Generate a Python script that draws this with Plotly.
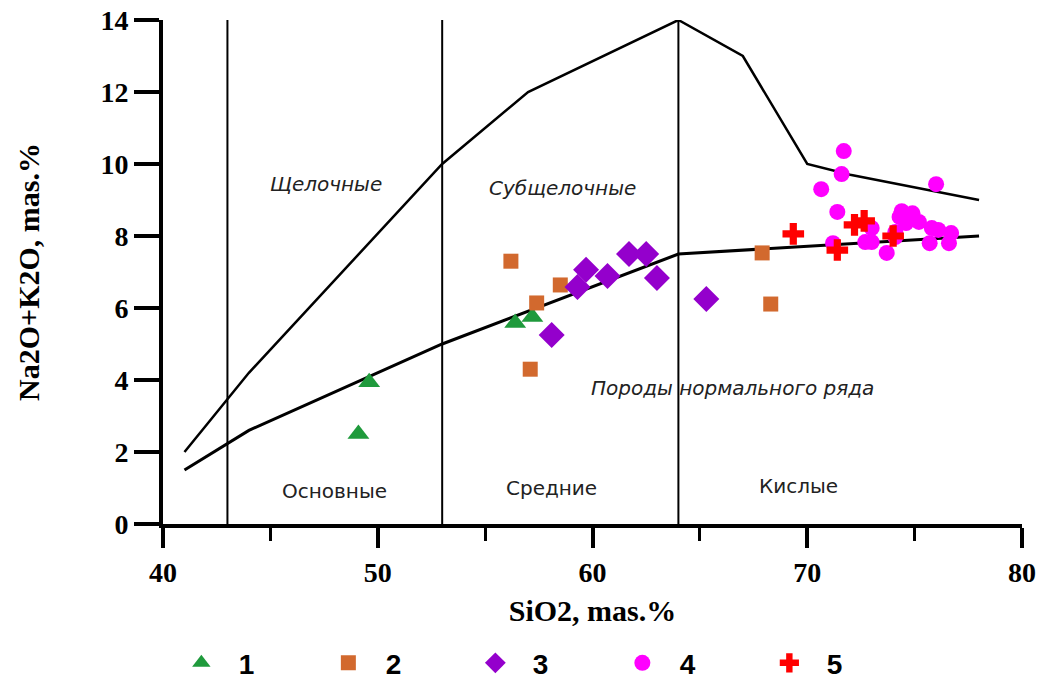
import plotly.graph_objects as go

# ---- data ----
upper_x = [41, 44, 53, 57, 64, 67, 70, 72, 78]
upper_y = [2, 4.2, 10, 12, 14, 13, 10, 9.7, 9.0]
lower_x = [41, 44, 53, 64, 78]
lower_y = [1.5, 2.6, 5.0, 7.5, 8.0]
div_x = [43, 53, 64]

s1_x = [49.6, 49.1, 56.4, 57.2]
s1_y = [3.94, 2.5, 5.58, 5.75]
s2_x = [56.2, 58.5, 57.4, 57.1, 67.9, 68.3]
s2_y = [7.3, 6.64, 6.14, 4.3, 7.53, 6.11]
s3_x = [59.7, 60.7, 59.3, 58.1, 61.7, 62.5, 63.0, 65.3]
s3_y = [7.06, 6.89, 6.58, 5.25, 7.5, 7.5, 6.83, 6.25]
s4_x = [71.7, 71.6, 70.65, 76.0, 71.4, 74.4, 74.9, 75.2, 75.8, 76.1, 73.0, 74.1,
        72.7, 73.0, 71.2, 73.7, 75.7, 76.6, 76.7, 74.3, 74.6, 74.1]
s4_y = [10.36, 9.72, 9.3, 9.44, 8.67, 8.69, 8.63, 8.39, 8.22, 8.17, 8.22, 8.11,
        7.83, 7.83, 7.8, 7.53, 7.8, 7.8, 8.08, 8.53, 8.36, 7.97]
s5_x = [69.35, 72.2, 72.65, 71.4, 74.0]
s5_y = [8.06, 8.31, 8.42, 7.61, 8.0]

labels_italic = ["Щелочные", "Субщелочные", "Породы нормального ряда"]
labels_italic_x = [47.6, 58.6, 66.5]
labels_italic_y = [9.45, 9.33, 3.78]
labels_plain = ["Основные", "Средние", "Кислые"]
labels_plain_x = [48.0, 58.1, 69.6]
labels_plain_y = [0.92, 1.0, 1.06]

x_ticks = [40, 50, 60, 70, 80]
y_ticks = [0, 2, 4, 6, 8, 10, 12, 14]

fig = go.Figure()

fig.add_trace(go.Scatter(x=upper_x, y=upper_y, mode="lines",
                         line=dict(color="black", width=2.5), showlegend=False, hoverinfo="skip"))
fig.add_trace(go.Scatter(x=lower_x, y=lower_y, mode="lines",
                         line=dict(color="black", width=3), showlegend=False, hoverinfo="skip"))
for dx in div_x:
    fig.add_trace(go.Scatter(x=[dx, dx], y=[0, 14], mode="lines",
                             line=dict(color="black", width=2), showlegend=False, hoverinfo="skip"))

series = [
    ("1", s1_x, s1_y, "triangle-up", "#1f9a3c", 19),
    ("2", s2_x, s2_y, "square", "#d2692e", 15),
    ("3", s3_x, s3_y, "diamond", "#9400cc", 20),
    ("4", s4_x, s4_y, "circle", "#ff00ff", 16),
    ("5", s5_x, s5_y, "cross", "#ff0000", 18),
]
for name, xs, ys, sym, col, sz in series:
    fig.add_trace(go.Scatter(x=xs, y=ys, mode="markers", name=name,
                             marker=dict(symbol=sym, color=col, size=sz, line=dict(width=0))))

ann_font = "DejaVu Sans, Arial"
for t, x, y in zip(labels_italic, labels_italic_x, labels_italic_y):
    fig.add_annotation(x=x, y=y, text="<i>" + t + "</i>", showarrow=False,
                       font=dict(family=ann_font, size=20, color="#222"))
for t, x, y in zip(labels_plain, labels_plain_x, labels_plain_y):
    fig.add_annotation(x=x, y=y, text=t, showarrow=False,
                       font=dict(family=ann_font, size=20, color="#222"))

fig.update_layout(
    width=1040, height=679,
    margin=dict(l=163, r=18, t=20, b=155, autoexpand=False),
    plot_bgcolor="white", paper_bgcolor="white",
    legend=dict(orientation="h", x=0.001, y=-0.276, xanchor="left", yanchor="middle",
                itemwidth=65, entrywidth=67, entrywidthmode="pixels",
                font=dict(family="Liberation Sans, Arial", size=28, color="black", weight="bold")),
    xaxis=dict(range=[40, 80], tickvals=x_ticks, showgrid=False, zeroline=False,
               showline=True, linecolor="black", linewidth=4,
               ticks="outside", ticklen=20, tickwidth=4, tickcolor="black",
               ticklabeloverflow="allow",
               minor=dict(dtick=5, tick0=40, ticks="outside", ticklen=13, tickwidth=3, tickcolor="black"),
               tickfont=dict(family="Liberation Serif", size=28, color="black", weight="bold"),
               title=dict(text="<b>SiO2, mas.%</b>", font=dict(family="Liberation Serif", size=30, color="black"),
                          standoff=14)),
    yaxis=dict(range=[0, 14], tickvals=y_ticks, showgrid=False, zeroline=False,
               showline=True, linecolor="black", linewidth=4,
               ticks="outside", ticklen=25, tickwidth=4, tickcolor="black",
               ticklabeloverflow="allow",
               tickfont=dict(family="Liberation Serif", size=28, color="black", weight="bold"),
               title=dict(text="<b>Na2O+K2O, mas.%</b>", font=dict(family="Liberation Serif", size=30, color="black"),
                          standoff=53)),
)

fig.write_html("out.html", config=dict(displayModeBar=False),
               post_script="document.body.style.margin='0';")
